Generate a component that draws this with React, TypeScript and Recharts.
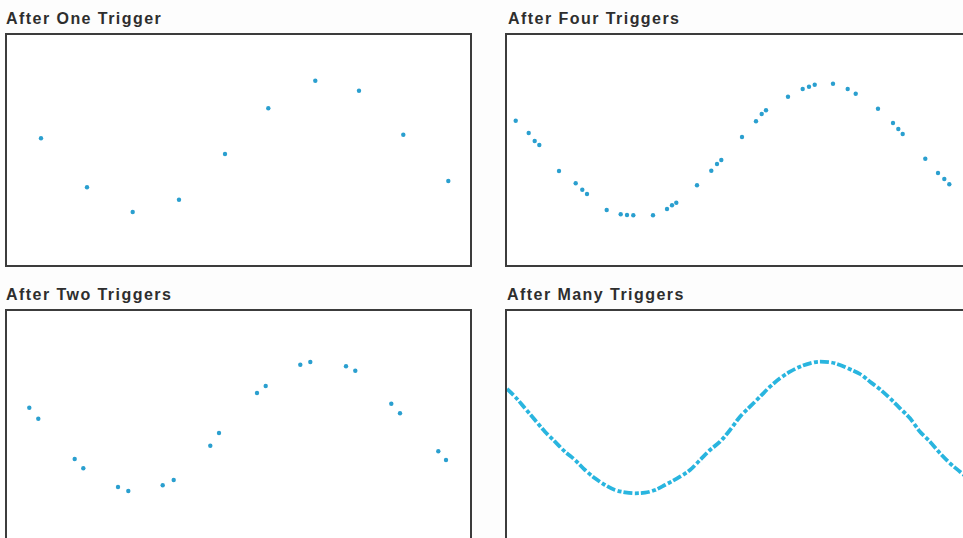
import React from 'react'
import { ScatterChart, Scatter, LineChart, Line, XAxis, YAxis } from 'recharts'

// x: px from the frame's left edge, y: height above the frame's bottom edge
const oneTrigger = [
  { x: 36, y: 128.7 }, { x: 82, y: 79.7 }, { x: 127.7, y: 55 }, { x: 174, y: 67.3 },
  { x: 220, y: 113 }, { x: 263.3, y: 158.7 }, { x: 310.3, y: 186.3 }, { x: 354, y: 176.3 },
  { x: 398.3, y: 132.3 }, { x: 443.3, y: 86 },
]

const twoTriggers = [
  { x: 24.3, y: 135.3 }, { x: 33.3, y: 124.3 }, { x: 69.7, y: 84 }, { x: 78.3, y: 74.7 },
  { x: 113, y: 56 }, { x: 123.3, y: 52 }, { x: 157.7, y: 57.7 }, { x: 168.7, y: 63 },
  { x: 205.3, y: 97.3 }, { x: 214, y: 110 }, { x: 252, y: 150 }, { x: 260.7, y: 157 },
  { x: 295.3, y: 178.3 }, { x: 305.3, y: 181 }, { x: 341, y: 176.7 }, { x: 350.3, y: 172.3 },
  { x: 386.3, y: 139.3 }, { x: 395, y: 129.7 }, { x: 433.3, y: 91.7 }, { x: 441, y: 83 },
]

const fourTriggers = [
  { x: 10.7, y: 146.3 }, { x: 23.7, y: 134 }, { x: 29.7, y: 126 }, { x: 34.3, y: 122 },
  { x: 54, y: 96 }, { x: 70.7, y: 83.7 }, { x: 77.3, y: 77.3 }, { x: 82, y: 73 },
  { x: 101.7, y: 57 }, { x: 115.7, y: 52.7 }, { x: 122, y: 52 }, { x: 128.3, y: 51.7 },
  { x: 148, y: 51.7 }, { x: 162, y: 58 }, { x: 167, y: 61.7 }, { x: 171.3, y: 64.3 },
  { x: 192, y: 81.7 }, { x: 206.3, y: 96.3 }, { x: 212, y: 103 }, { x: 216.3, y: 107 },
  { x: 237, y: 130 }, { x: 251, y: 145.7 }, { x: 256.7, y: 153 }, { x: 261, y: 156.7 },
  { x: 283, y: 170.3 }, { x: 297.7, y: 178 }, { x: 304, y: 180.3 }, { x: 309.7, y: 182.3 },
  { x: 328, y: 183.3 }, { x: 342.7, y: 178 }, { x: 350.7, y: 173.3 }, { x: 373, y: 158.3 },
  { x: 388, y: 144 }, { x: 393.3, y: 138 }, { x: 397.7, y: 133 }, { x: 420.3, y: 108.3 },
  { x: 433, y: 94 }, { x: 439.3, y: 88 }, { x: 444.3, y: 82.7 },
]

const manyTriggers = [
  { x: 2, y: 154 }, { x: 10, y: 146.3 }, { x: 20, y: 134.7 }, { x: 30, y: 123 },
  { x: 40, y: 111.3 }, { x: 50, y: 101.3 }, { x: 60, y: 91.3 }, { x: 70, y: 83 },
  { x: 80, y: 73 }, { x: 90, y: 64.7 }, { x: 100, y: 58 }, { x: 110, y: 53 },
  { x: 120, y: 50.7 }, { x: 130, y: 49.7 }, { x: 140, y: 50.3 }, { x: 150, y: 53 },
  { x: 160, y: 58 }, { x: 175, y: 66.3 }, { x: 185, y: 73 }, { x: 195, y: 83 },
  { x: 205, y: 93 }, { x: 215, y: 101.3 }, { x: 225, y: 113 }, { x: 235, y: 126.3 },
  { x: 245, y: 136.3 }, { x: 255, y: 146.3 }, { x: 265, y: 156.3 }, { x: 275, y: 164.7 },
  { x: 285, y: 171.3 }, { x: 295, y: 176.3 }, { x: 305, y: 179.7 }, { x: 315, y: 181.3 },
  { x: 325, y: 180.7 }, { x: 335, y: 178 }, { x: 345, y: 173.7 }, { x: 355, y: 169 },
  { x: 365, y: 161.3 }, { x: 375, y: 153.7 }, { x: 385, y: 144.7 }, { x: 395, y: 134.7 },
  { x: 405, y: 124.7 }, { x: 415, y: 111.3 }, { x: 425, y: 101.3 }, { x: 435, y: 89.7 },
  { x: 445, y: 79.7 }, { x: 455, y: 71.3 }, { x: 465, y: 63 },
]

const titles = ['After One Trigger', 'After Four Triggers', 'After Two Triggers', 'After Many Triggers']

const DOT = '#2a9fcf'
const TRACE = '#29b5df'
const W = 467
const H = 234

const titleStyle: React.CSSProperties = {
  position: 'absolute',
  fontFamily: '"Liberation Sans", Arial, sans-serif',
  fontWeight: 'bold',
  fontSize: 16,
  lineHeight: '16px',
  letterSpacing: 1.45,
  color: '#2e2e2e',
  whiteSpace: 'nowrap',
}

function Frame({ left, top, children }: { left: number; top: number; children: React.ReactNode }) {
  return (
    <div
      style={{
        position: 'absolute',
        left,
        top,
        width: W,
        height: H,
        border: '2px solid #3c3c3c',
        boxSizing: 'border-box',
        background: '#fff',
      }}
    >
      {children}
    </div>
  )
}

const dotShape = (p: any) => <circle cx={p.cx} cy={p.cy} r={2.2} fill={DOT} />

function Dots({ data }: { data: { x: number; y: number }[] }) {
  return (
    <ScatterChart width={W - 4} height={H - 4} margin={{ top: 0, right: 0, bottom: 0, left: 0 }}>
      <XAxis type="number" dataKey="x" domain={[2, W - 2]} hide />
      <YAxis type="number" dataKey="y" domain={[2, H - 2]} hide />
      <Scatter data={data} shape={dotShape} isAnimationActive={false} />
    </ScatterChart>
  )
}

export default function App() {
  return (
    <div
      style={{
        position: 'absolute',
        left: 0,
        top: 0,
        width: 963,
        height: 538,
        overflow: 'hidden',
        background: '#fdfdfd',
      }}
    >
      <div style={{ ...titleStyle, left: 6, top: 11 }}>{titles[0]}</div>
      <div style={{ ...titleStyle, left: 508, top: 11 }}>{titles[1]}</div>
      <div style={{ ...titleStyle, left: 6, top: 287 }}>{titles[2]}</div>
      <div style={{ ...titleStyle, left: 507, top: 287 }}>{titles[3]}</div>

      <Frame left={5} top={33}>
        <Dots data={oneTrigger} />
      </Frame>
      <Frame left={505} top={33}>
        <Dots data={fourTriggers} />
      </Frame>
      <Frame left={5} top={309}>
        <Dots data={twoTriggers} />
      </Frame>
      <Frame left={505} top={309}>
        <LineChart width={W - 4} height={H - 4} data={manyTriggers} margin={{ top: 0, right: 0, bottom: 0, left: 0 }}>
          <XAxis type="number" dataKey="x" domain={[2, W - 2]} hide />
          <YAxis type="number" domain={[2, H - 2]} hide />
          <Line
            type="monotone"
            dataKey="y"
            stroke={TRACE}
            strokeWidth={3.8}
            strokeDasharray="9 2.5 4 2"
            dot={false}
            isAnimationActive={false}
          />
        </LineChart>
      </Frame>
    </div>
  )
}
